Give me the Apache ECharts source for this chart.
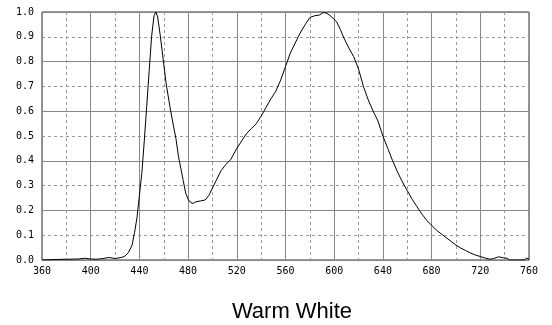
<!DOCTYPE html>
<html>
<head>
<meta charset="utf-8">
<script src="https://cdn.jsdelivr.net/npm/echarts@6/dist/echarts.min.js"></script>
<style>html,body{margin:0;padding:0;background:#fff;}#c{width:552px;height:325px;}</style>
</head>
<body>
<div id="c"></div>
<script>
var wavelengths = [360,370,380,390,395,400,405,410,415,420,425,428,431,434,436,438,440,442,444,446,448,450,452,453.5,455,457,460,462,465,468,470,472,474,476,478,480,482,484,486,490,494,497,500,503,507,511,515,520,524,528,532,536,540,544,548,552,556,560,564,568,572,576,580,584,588,591,594,598,602,605,608,612,616,620,624,628,632,636,640,644,648,652,656,660,664,668,672,676,680,684,688,692,696,700,704,708,712,716,720,724,728,731,735,739,742,744,750,756,758,760];
var intensity = [0,0.002,0.003,0.004,0.007,0.004,0.003,0.006,0.01,0.006,0.01,0.015,0.03,0.06,0.11,0.17,0.26,0.35,0.48,0.62,0.76,0.9,0.985,1.0,0.98,0.91,0.79,0.71,0.62,0.54,0.49,0.42,0.37,0.32,0.27,0.245,0.232,0.228,0.234,0.238,0.242,0.26,0.29,0.32,0.36,0.385,0.405,0.45,0.48,0.51,0.53,0.55,0.58,0.615,0.65,0.68,0.725,0.78,0.835,0.875,0.915,0.948,0.978,0.985,0.988,0.998,0.995,0.98,0.96,0.93,0.895,0.855,0.82,0.77,0.70,0.645,0.6,0.56,0.5,0.45,0.4,0.355,0.315,0.28,0.245,0.215,0.185,0.16,0.14,0.12,0.105,0.09,0.075,0.06,0.048,0.038,0.028,0.02,0.014,0.008,0.003,0.006,0.013,0.009,0.007,0,0,0,0.008,0.003];
var chartTitle = 'Warm White';

var points = wavelengths.map(function (w, i) { return [w, intensity[i]]; });
var chart = echarts.init(document.getElementById('c'), null, {renderer: 'canvas'});
var labelFont = {fontFamily: 'DejaVu Sans Mono', fontSize: 10, color: '#000'};
chart.setOption({
  animation: false,
  backgroundColor: '#fff',
  title: {
    text: chartTitle,
    left: 287, top: 296, textAlign: 'center',
    textStyle: {fontFamily: 'Liberation Sans', fontSize: 22, fontWeight: 'normal', color: '#000'}
  },
  grid: {left: 42, right: 23, top: 12, bottom: 65, show: true, borderColor: '#333', borderWidth: 1},
  xAxis: {
    type: 'value', min: 360, max: 760, interval: 40,
    axisLine: {show: false}, axisTick: {show: false},
    axisLabel: Object.assign({margin: 6}, labelFont),
    splitLine: {show: true, lineStyle: {color: '#888', width: 1}},
    minorTick: {show: false, splitNumber: 2},
    minorSplitLine: {show: true, lineStyle: {color: '#999', width: 1, type: [3, 3]}}
  },
  yAxis: [{
    type: 'value', min: 0, max: 1, interval: 0.2,
    axisLine: {show: false}, axisTick: {show: false}, axisLabel: {show: false},
    splitLine: {show: true, lineStyle: {color: '#888', width: 1}},
    minorTick: {show: false, splitNumber: 2},
    minorSplitLine: {show: true, lineStyle: {color: '#999', width: 1, type: [3, 3]}}
  }, {
    type: 'value', min: 0, max: 1, interval: 0.1, position: 'left',
    axisLine: {show: false}, axisTick: {show: false}, splitLine: {show: false},
    axisLabel: Object.assign({margin: 8, formatter: function (v) { return v.toFixed(1); }}, labelFont)
  }],
  series: [{
    type: 'line', yAxisIndex: 0, data: points, showSymbol: false, symbol: 'none',
    lineStyle: {color: '#000', width: 1}, smooth: false
  }]
});
</script>
</body>
</html>
